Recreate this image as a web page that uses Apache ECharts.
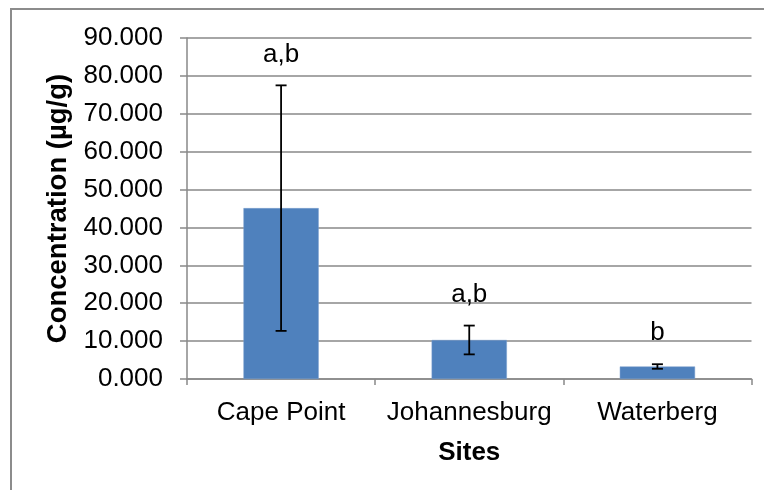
<!DOCTYPE html>
<html>
<head>
<meta charset="utf-8">
<script src="https://cdn.jsdelivr.net/npm/echarts@6/dist/echarts.min.js"></script>
<style>
  html, body { margin: 0; padding: 0; background: #fff; }
  #chart { width: 764px; height: 490px; }
</style>
</head>
<body>
<div id="chart"></div>
<script>
// Mean concentration per site with its standard deviation
const sites = ['Cape Point', 'Johannesburg', 'Waterberg'];
const meanConc = [45.1, 10.3, 3.3];
const sdConc = [32.4, 3.8, 0.6];
const groupLetters = ['a,b', 'a,b', 'b'];
const yTicks = { min: 0, max: 90, step: 10 };

const FONT = 'Arial, "Liberation Sans", sans-serif';
const GRID_GRAY = '#898989';

const errorData = sites.map((s, i) => [i, meanConc[i] - sdConc[i], meanConc[i] + sdConc[i], groupLetters[i]]);

const chart = echarts.init(document.getElementById('chart'), null, { renderer: 'canvas' });

chart.setOption({
  animation: false,
  backgroundColor: '#fff',
  grid: { left: 187, right: 12.5, top: 38, bottom: 111, containLabel: false },
  graphic: [{
    type: 'rect',
    shape: { x: 11, y: 9, width: 800, height: 600 },
    style: { fill: 'none', stroke: '#8c8c8c', lineWidth: 2 },
    silent: true
  }],
  xAxis: {
    type: 'category',
    data: sites,
    name: 'Sites',
    nameLocation: 'middle',
    nameGap: 61,
    nameTextStyle: { fontFamily: FONT, fontSize: 26, fontWeight: 'bold', color: '#000' },
    axisLine: { lineStyle: { color: GRID_GRAY, width: 1.5 } },
    axisTick: { show: true, length: 6, lineStyle: { color: GRID_GRAY, width: 1.5 } },
    axisLabel: { fontFamily: FONT, fontSize: 26, color: '#000', margin: 21, interval: 0, hideOverlap: false }
  },
  yAxis: {
    type: 'value',
    min: yTicks.min,
    max: yTicks.max,
    interval: yTicks.step,
    name: 'Concentration (µg/g)',
    nameLocation: 'middle',
    nameGap: 112,
    nameRotate: 90,
    nameTextStyle: { fontFamily: FONT, fontSize: 27.5, fontWeight: 'bold', color: '#000' },
    axisLine: { show: true, lineStyle: { color: GRID_GRAY, width: 1.5 } },
    axisTick: { show: true, length: 7, lineStyle: { color: GRID_GRAY, width: 1.5 } },
    splitLine: { lineStyle: { color: GRID_GRAY, width: 1.5 } },
    axisLabel: {
      fontFamily: FONT, fontSize: 26, color: '#000', margin: 24,
      formatter: v => v.toFixed(3)
    }
  },
  series: [
    {
      type: 'bar',
      data: meanConc,
      barWidth: '40%',
      itemStyle: { color: '#4F81BD', borderColor: '#7a9fcf', borderWidth: 0.5 }
    },
    {
      type: 'custom',
      data: errorData,
      z: 5,
      renderItem: (params, api) => {
        const x = api.value(0);
        const lo = api.coord([x, api.value(1)]);
        const hi = api.coord([x, api.value(2)]);
        const cap = 5.5;
        const line = { stroke: '#000', lineWidth: 1.8 };
        return {
          type: 'group',
          children: [
            { type: 'line', shape: { x1: hi[0], y1: hi[1], x2: lo[0], y2: lo[1] }, style: line },
            { type: 'line', shape: { x1: hi[0] - cap, y1: hi[1], x2: hi[0] + cap, y2: hi[1] }, style: line },
            { type: 'line', shape: { x1: lo[0] - cap, y1: lo[1], x2: lo[0] + cap, y2: lo[1] }, style: line },
            {
              type: 'text',
              x: hi[0], y: hi[1] - 31,
              style: {
                text: api.value(3),
                fontFamily: FONT, fontSize: 26, fill: '#000',
                align: 'center', verticalAlign: 'middle'
              }
            }
          ]
        };
      }
    }
  ]
});
</script>
</body>
</html>
